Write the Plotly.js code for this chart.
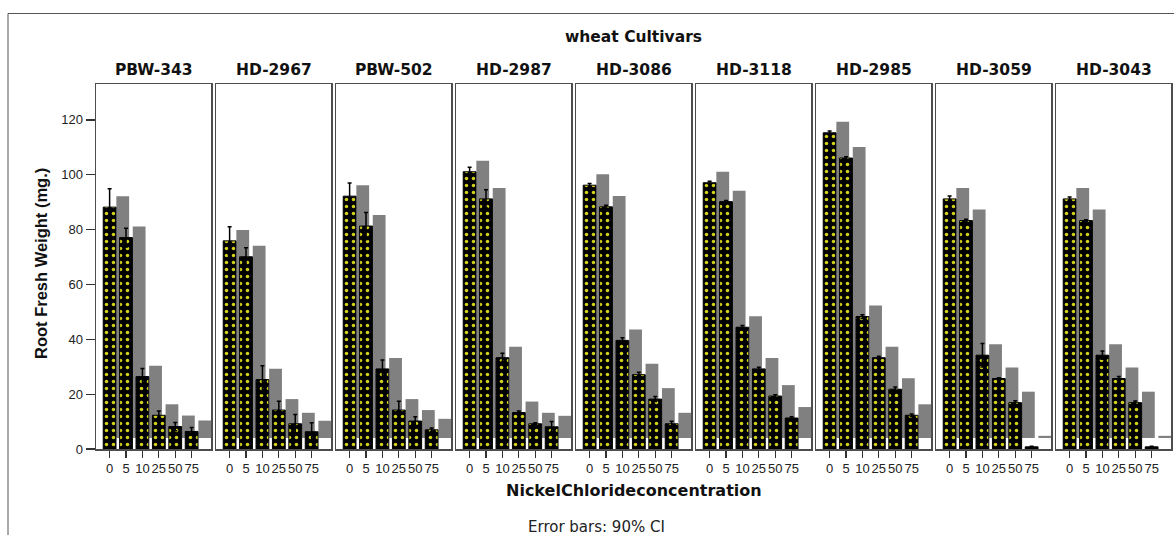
<!DOCTYPE html>
<html>
<head>
<meta charset="utf-8">
<script src="https://cdn.plot.ly/plotly-3.0.1.min.js"></script>
<style>html,body{margin:0;padding:0;background:#fff;}#chart{width:1174px;height:535px;}</style>
</head>
<body>
<div id="chart"></div>
<script>
// ---- data ----
const concLabels = ['0', '5', '10', '25', '50', '75'];
const cultivars = ['PBW-343', 'HD-2967', 'PBW-502', 'HD-2987', 'HD-3086', 'HD-3118', 'HD-2985', 'HD-3059', 'HD-3043'];

const PBW343 = [88.2, 77.1, 26.4, 12.3, 8.2, 6.4];
const HD2967 = [75.9, 70.1, 25.3, 14.2, 9.2, 6.3];
const PBW502 = [92.2, 81.3, 29.2, 14.2, 10.2, 7.0];
const HD2987 = [101.1, 91.2, 33.3, 13.3, 9.2, 8.1];
const HD3086 = [96.2, 88.3, 39.6, 27.1, 18.2, 9.2];
const HD3118 = [97.1, 90.2, 44.4, 29.2, 19.3, 11.3];
const HD2985 = [115.3, 106.1, 48.3, 33.3, 21.8, 12.3];
const HD3059 = [91.2, 83.3, 34.2, 25.7, 16.9, 0.8];
const HD3043 = [91.2, 83.3, 34.2, 25.7, 16.9, 0.8];

// 90% CI half-widths
const errPBW343 = [6.7, 3.4, 3.0, 1.6, 1.5, 1.4];
const errHD2967 = [5.1, 3.3, 5.1, 3.2, 3.4, 3.3];
const errPBW502 = [4.8, 4.9, 3.3, 3.2, 1.6, 0.7];
const errHD2987 = [1.6, 3.3, 1.6, 0.6, 0.4, 1.9];
const errHD3086 = [0.6, 0.6, 1.0, 0.9, 0.9, 0.9];
const errHD3118 = [0.5, 0.4, 0.6, 0.6, 0.5, 0.5];
const errHD2985 = [0.7, 0.5, 0.7, 0.5, 0.8, 0.5];
const errHD3059 = [1.1, 0.5, 4.3, 0.3, 0.7, 0.2];
const errHD3043 = [0.7, 0.3, 1.5, 0.7, 0.6, 0.2];

const values = [PBW343, HD2967, PBW502, HD2987, HD3086, HD3118, HD2985, HD3059, HD3043];
const errors = [errPBW343, errHD2967, errPBW502, errHD2987, errHD3086, errHD3118, errHD2985, errHD3059, errHD3043];

// ---- layout helpers ----
const L = 96, R = 3, T = 84, B = 86, W = 1174, H = 535;
const plotW = W - L - R, plotH = H - T - B;
const panelW = 115, step = 120;
const shadowLift = 4;      // drop-shadow offset (data units)
const shadowShift = 0.8;   // drop-shadow offset (category units)
const barW = 0.78;
const idx = concLabels.map((_, i) => i);

const traces = [];
const layout = {
  width: W, height: H,
  margin: {l: L, r: R, t: T, b: B},
  paper_bgcolor: '#ffffff', plot_bgcolor: '#ffffff',
  showlegend: false, barmode: 'overlay',
  font: {family: 'Liberation Sans, Arial, sans-serif', size: 13, color: '#222'},
  annotations: [], shapes: []
};

const lineCol = '#4d4d4d';
const px2x = px => (px - L) / plotW;
const px2y = py => (T + plotH - py) / plotH;

cultivars.forEach((name, p) => {
  const xa = p === 0 ? 'x' : 'x' + (p + 1);
  const ya = p === 0 ? 'y' : 'y' + (p + 1);
  const vals = values[p];
  // shadow
  traces.push({
    type: 'bar', x: idx.map(i => i + shadowShift), y: vals, base: vals.map(() => shadowLift),
    width: barW, xaxis: xa, yaxis: ya,
    marker: {color: '#808080', line: {width: 0}}, hoverinfo: 'skip'
  });
  // main bars
  traces.push({
    type: 'bar', x: idx, y: vals, width: barW, xaxis: xa, yaxis: ya,
    marker: {
      color: '#000000',
      line: {color: '#000000', width: 1},
      pattern: {shape: '.', fgcolor: '#d2d21c', bgcolor: '#000000', size: 7, solidity: 0.2, fillmode: 'replace'}
    },
    error_y: {type: 'data', array: errors[p], symmetric: true, visible: true, color: '#000000', thickness: 1.5, width: 2},
    hoverinfo: 'skip'
  });

  const d0 = (step * p) / plotW, d1 = (step * p + panelW) / plotW;
  layout[p === 0 ? 'xaxis' : 'xaxis' + (p + 1)] = {
    domain: [d0, d1], anchor: ya, range: [-0.83, 6.18],
    tickmode: 'array', tickvals: idx, ticktext: concLabels, tickangle: 0,
    ticks: 'outside', ticklen: 7, tickwidth: 1.2, tickcolor: '#333',
    tickfont: {family: 'Liberation Sans, Arial, sans-serif', size: 13, color: '#222'},
    showline: true, mirror: true, linecolor: lineCol, linewidth: 1.5,
    showgrid: false, zeroline: false, fixedrange: true
  };
  layout[p === 0 ? 'yaxis' : 'yaxis' + (p + 1)] = {
    domain: [0, 1], anchor: xa, range: [0, 133.1],
    tickmode: 'linear', tick0: 0, dtick: 20,
    ticks: p === 0 ? 'outside' : '', ticklen: 9, tickwidth: 1.2, tickcolor: '#333',
    showticklabels: p === 0,
    tickfont: {family: 'Liberation Sans, Arial, sans-serif', size: 13, color: '#222'},
    showline: true, mirror: true, linecolor: lineCol, linewidth: 1.5,
    showgrid: false, zeroline: false, fixedrange: true
  };
  layout.annotations.push({
    text: name, xref: 'paper', yref: 'paper',
    x: (d0 + d1) / 2, y: px2y(70), xanchor: 'center', yanchor: 'middle', showarrow: false,
    font: {family: 'DejaVu Sans, sans-serif', size: 15.5, weight: 700, color: '#111'}
  });
});

layout.annotations.push(
  {text: 'wheat Cultivars', xref: 'paper', yref: 'paper', x: 0.5, y: px2y(37),
   xanchor: 'center', yanchor: 'middle', showarrow: false,
   font: {family: 'DejaVu Sans, sans-serif', size: 15.5, weight: 700, color: '#111'}},
  {text: 'NickelChlorideconcentration', xref: 'paper', yref: 'paper', x: 0.5, y: px2y(490),
   xanchor: 'center', yanchor: 'middle', showarrow: false,
   font: {family: 'DejaVu Sans, sans-serif', size: 16, weight: 700, color: '#111'}},
  {text: 'Error bars: 90% CI', xref: 'paper', yref: 'paper', x: px2x(596), y: px2y(527),
   xanchor: 'center', yanchor: 'middle', showarrow: false,
   font: {family: 'DejaVu Sans, sans-serif', size: 15, color: '#222'}},
  {text: 'Root Fresh Weight (mg.)', xref: 'paper', yref: 'paper', x: px2x(40.5), y: px2y(263.5),
   xanchor: 'center', yanchor: 'middle', textangle: -90, showarrow: false,
   font: {family: 'Liberation Sans, Arial, sans-serif', size: 16.5, weight: 700, color: '#111'}}
);

// outer frame
layout.shapes.push({
  type: 'rect', xref: 'paper', yref: 'paper',
  x0: px2x(8), x1: px2x(1185), y0: px2y(545), y1: px2y(13.5),
  line: {color: '#555', width: 1}, fillcolor: 'rgba(0,0,0,0)', layer: 'below'
});

Plotly.newPlot('chart', traces, layout, {staticPlot: true, displayModeBar: false});
</script>
</body>
</html>
